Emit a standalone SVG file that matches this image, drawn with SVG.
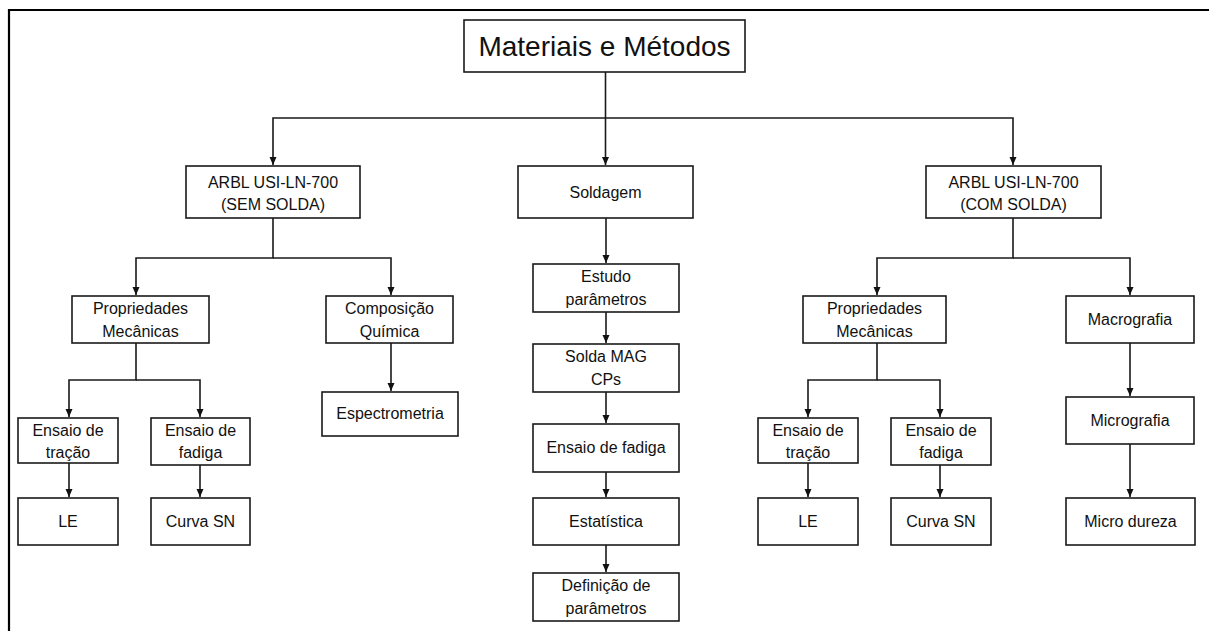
<svg xmlns="http://www.w3.org/2000/svg" width="1209" height="631" viewBox="0 0 1209 631">
<defs>
<style>
.box{fill:#fff;stroke:#1a1a1a;stroke-width:1.6}
.t{font-family:"Liberation Sans",Arial,sans-serif;font-size:16px;fill:#111;text-anchor:middle}
.big{font-size:28px}
.c{fill:none;stroke:#1a1a1a;stroke-width:1.6}
.frame{fill:none;stroke:#000;stroke-width:2.2}
</style>
<marker id="ah" markerUnits="userSpaceOnUse" markerWidth="8" markerHeight="8" refX="8" refY="4" orient="auto" viewBox="0 0 8 8">
<path d="M0 0.5 L8 4 L0 7.5 Z" fill="#111"/>
</marker>
</defs>
<rect width="1209" height="631" fill="#fff"/>
<path class="frame" d="M9 640 V10 H1215"/>
<g id="title"><rect class="box" x="464" y="20" width="281" height="52"/><text class="t big" x="604.5" y="56">Materiais e Métodos</text></g>
<g id="arbl-sem"><rect class="box" x="186" y="166" width="174" height="52"/><text class="t" x="273" y="188">ARBL USI-LN-700</text><text class="t" x="273" y="210">(SEM SOLDA)</text></g>
<g id="soldagem"><rect class="box" x="518" y="166" width="175" height="52"/><text class="t" x="605.5" y="197.5">Soldagem</text></g>
<g id="arbl-com"><rect class="box" x="926" y="166" width="175" height="52"/><text class="t" x="1013.5" y="188">ARBL USI-LN-700</text><text class="t" x="1013.5" y="210">(COM SOLDA)</text></g>
<g id="prop1"><rect class="box" x="72" y="296" width="137" height="47"/><text class="t" x="140.5" y="314">Propriedades</text><text class="t" x="140.5" y="337">Mecânicas</text></g>
<g id="comp"><rect class="box" x="326" y="296" width="127" height="47"/><text class="t" x="389.5" y="314">Composição</text><text class="t" x="389.5" y="337">Química</text></g>
<g id="tracao1"><rect class="box" x="18" y="418" width="100" height="45"/><text class="t" x="68" y="436">Ensaio de</text><text class="t" x="68" y="458">tração</text></g>
<g id="fadiga1"><rect class="box" x="151" y="418" width="99" height="47"/><text class="t" x="200.5" y="436">Ensaio de</text><text class="t" x="200.5" y="458">fadiga</text></g>
<g id="le1"><rect class="box" x="18" y="498" width="100" height="47"/><text class="t" x="68" y="527">LE</text></g>
<g id="sn1"><rect class="box" x="151" y="498" width="99" height="47"/><text class="t" x="200.5" y="527">Curva SN</text></g>
<g id="espec"><rect class="box" x="322" y="392" width="136" height="44"/><text class="t" x="390" y="419">Espectrometria</text></g>
<g id="estudo"><rect class="box" x="533" y="264" width="146" height="48"/><text class="t" x="606" y="282">Estudo</text><text class="t" x="606" y="305">parâmetros</text></g>
<g id="mag"><rect class="box" x="533" y="344" width="146" height="48"/><text class="t" x="606" y="362">Solda MAG</text><text class="t" x="606" y="385">CPs</text></g>
<g id="fadigaC"><rect class="box" x="533" y="424" width="146" height="48"/><text class="t" x="606" y="453">Ensaio de fadiga</text></g>
<g id="estat"><rect class="box" x="533" y="498" width="146" height="47"/><text class="t" x="606" y="527">Estatística</text></g>
<g id="defin"><rect class="box" x="533" y="573" width="146" height="48"/><text class="t" x="606" y="591">Definição de</text><text class="t" x="606" y="614">parâmetros</text></g>
<g id="prop2"><rect class="box" x="803" y="296" width="143" height="47"/><text class="t" x="874.5" y="314">Propriedades</text><text class="t" x="874.5" y="337">Mecânicas</text></g>
<g id="macro"><rect class="box" x="1066" y="296" width="128" height="47"/><text class="t" x="1130" y="325">Macrografia</text></g>
<g id="tracao2"><rect class="box" x="758" y="418" width="100" height="45"/><text class="t" x="808" y="436">Ensaio de</text><text class="t" x="808" y="458">tração</text></g>
<g id="fadiga2"><rect class="box" x="891" y="418" width="100" height="47"/><text class="t" x="941" y="436">Ensaio de</text><text class="t" x="941" y="458">fadiga</text></g>
<g id="le2"><rect class="box" x="758" y="498" width="100" height="47"/><text class="t" x="808" y="527">LE</text></g>
<g id="sn2"><rect class="box" x="891" y="498" width="100" height="47"/><text class="t" x="941" y="527">Curva SN</text></g>
<g id="micro"><rect class="box" x="1066" y="397" width="128" height="47"/><text class="t" x="1130" y="426">Micrografia</text></g>
<g id="dureza"><rect class="box" x="1066" y="498" width="129" height="47"/><text class="t" x="1130.5" y="527">Micro dureza</text></g>
<g id="connectors">
<path class="c" d="M605.5 72 V165" marker-end="url(#ah)"/>
<path class="c" d="M605.5 118 H273 V165" marker-end="url(#ah)"/>
<path class="c" d="M605.5 118 H1013 V165" marker-end="url(#ah)"/>
<path class="c" d="M273 218 V258 H136 V295" marker-end="url(#ah)"/>
<path class="c" d="M273 258 H391 V295" marker-end="url(#ah)"/>
<path class="c" d="M136 343 V380 H69 V417" marker-end="url(#ah)"/>
<path class="c" d="M136 380 H200 V417" marker-end="url(#ah)"/>
<path class="c" d="M69 463 V497" marker-end="url(#ah)"/>
<path class="c" d="M200 465 V497" marker-end="url(#ah)"/>
<path class="c" d="M391 343 V391" marker-end="url(#ah)"/>
<path class="c" d="M606 218 V263" marker-end="url(#ah)"/>
<path class="c" d="M606 312 V343" marker-end="url(#ah)"/>
<path class="c" d="M606 392 V423" marker-end="url(#ah)"/>
<path class="c" d="M606 472 V497" marker-end="url(#ah)"/>
<path class="c" d="M606 545 V572" marker-end="url(#ah)"/>
<path class="c" d="M1013 218 V258 H877 V295" marker-end="url(#ah)"/>
<path class="c" d="M1013 258 H1130 V295" marker-end="url(#ah)"/>
<path class="c" d="M877 343 V380 H808 V417" marker-end="url(#ah)"/>
<path class="c" d="M877 380 H940 V417" marker-end="url(#ah)"/>
<path class="c" d="M808 463 V497" marker-end="url(#ah)"/>
<path class="c" d="M940 465 V497" marker-end="url(#ah)"/>
<path class="c" d="M1130 343 V396" marker-end="url(#ah)"/>
<path class="c" d="M1130 444 V497" marker-end="url(#ah)"/>
</g>
</svg>
